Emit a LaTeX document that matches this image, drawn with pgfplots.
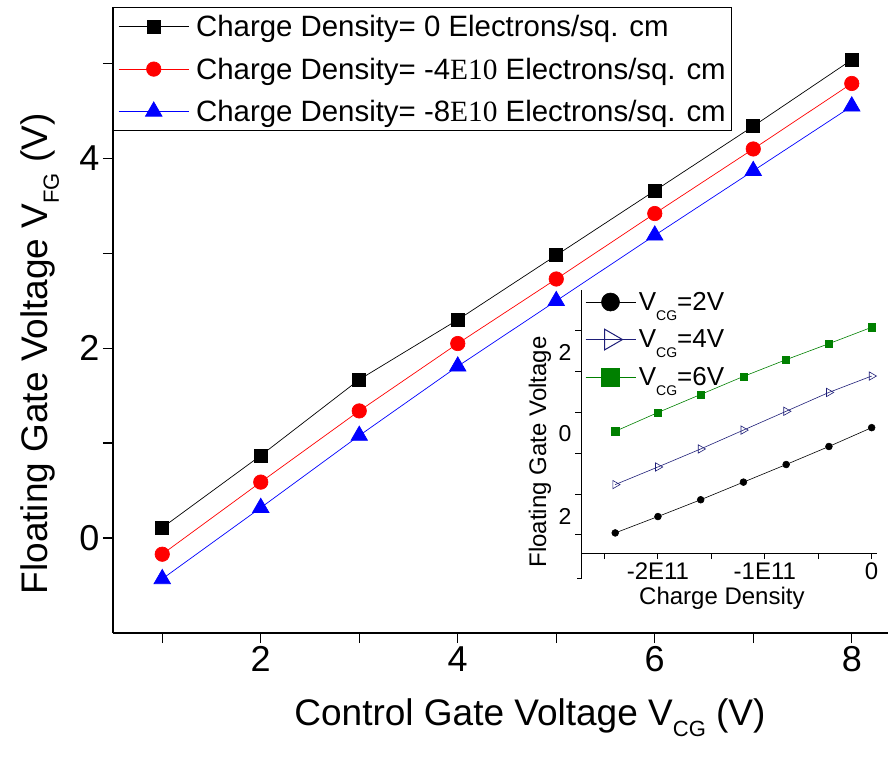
\documentclass[border=0pt]{standalone}
\usepackage{fontspec}
\setmainfont{Liberation Sans}
\newfontfamily\serif{Liberation Serif}
\usepackage{pgfplots}
\pgfplotsset{compat=1.18}
\newcommand{\subs}[3]{\raisebox{-#3}{\fontsize{#2}{#2}\selectfont #1}}
\definecolor{navy}{RGB}{30,30,120}
\definecolor{dgreen}{RGB}{0,128,0}
\begin{document}
\begin{tikzpicture}
\begin{axis}[
  name=main, at={(0,0)}, anchor=south west, scale only axis,
  width=775pt, height=626pt,
  xmin=0.5, xmax=8.368, ymin=-1, ymax=5.596,
  axis x line*=bottom, axis y line*=left,
  axis line style={line width=1.6pt},
  tick align=outside,
  xtick={2,4,6,8}, xticklabels={2,4,6,8}, minor xtick={1,3,5,7},
  ytick={0,2,4}, yticklabels={0,2,4}, minor ytick={1,3,5},
  major tick length=10pt, minor tick length=10pt,
  tick style={black, line width=1.4pt},
  xticklabel style={font=\fontsize{36}{40}\selectfont},
  yticklabel style={font=\fontsize{36}{40}\selectfont},
  xlabel={Control Gate Voltage V\subs{CG}{22pt}{11pt} (V)},
  ylabel={Floating Gate Voltage V\subs{FG}{22pt}{11pt} (V)},
  label style={font=\fontsize{37}{42}\selectfont},
  xlabel style={at={(axis description cs:0.538,-0.136)}, anchor=center},
  ylabel style={at={(axis description cs:-0.094,0.446)}, anchor=center},
  legend image code/.code={\draw[mark repeat=2,mark phase=2,#1] plot coordinates {(0pt,0pt) (35pt,0pt) (70pt,0pt)};},
  legend style={at={(axis description cs:0,1)}, anchor=north west, draw=black, line width=0.8pt,
    fill=white, font=\fontsize{29.4}{34}\selectfont, inner xsep=5pt, inner ysep=7pt, row sep=17.5pt,
    nodes={inner sep=1pt}, /tikz/every odd column/.append style={column sep=6pt}},
  legend cell align=left,
]
\addplot[black, line width=0.7pt, mark=square*, mark size=6.5pt, mark options={solid}] coordinates {
 (1,0.11) (2,0.87) (3,1.67) (4,2.30) (5,2.98) (6,3.66) (7,4.34) (8,5.04)};
\addlegendentry{Charge Density= 0 Electrons/sq. cm}
\addplot[red, line width=0.7pt, mark=*, mark size=7.2pt, mark options={solid, fill=red}] coordinates {
 (1,-0.17) (2,0.59) (3,1.34) (4,2.05) (5,2.73) (6,3.42) (7,4.10) (8,4.79)};
\addlegendentry{Charge Density= -4{\serif E10} Electrons/sq. cm}
\addplot[blue, line width=0.7pt, mark=triangle*, mark size=9.5pt, mark options={solid, fill=blue}] coordinates {
 (1,-0.43) (2,0.32) (3,1.08) (4,1.81) (5,2.50) (6,3.19) (7,3.87) (8,4.55)};
\addlegendentry{Charge Density= -8{\serif E10} Electrons/sq. cm}
\end{axis}

\begin{axis}[
  name=inset, at={(468pt,80pt)}, anchor=south west, scale only axis,
  width=296pt, height=263pt,
  xmin=-2.72e11, xmax=0.05e11, ymin=-2.44, ymax=3.98,
  axis x line*=bottom, axis y line*=left,
  axis line style={line width=1pt},
  tick align=outside, scaled x ticks=false,
  xtick={-2e11,-1e11,0}, xticklabels={-2E11,-1E11,0}, minor xtick={-2.5e11,-1.5e11,-0.5e11},
  ytick={-2,0,2}, yticklabels={2,0,2}, minor ytick={-1,1,3},
  major tick length=6pt, minor tick length=6pt,
  tick style={black, line width=1pt},
  xticklabel style={font=\fontsize{24}{26}\selectfont},
  yticklabel style={font=\fontsize{23}{26}\selectfont, yshift=19pt},
  xlabel={Charge Density}, ylabel={Floating Gate Voltage},
  label style={font=\fontsize{24}{28}\selectfont},
  xlabel style={at={(axis description cs:0.476,-0.171)}, anchor=center},
  ylabel style={at={(axis description cs:-0.139,0.384)}, anchor=center},
  legend image code/.code={\draw[mark repeat=2,mark phase=2,#1] plot coordinates {(0pt,0pt) (25pt,0pt) (50pt,0pt)};},
  legend style={at={(axis description cs:0.0135,1)}, anchor=north west, draw=none, fill=none,
    font=\fontsize{26}{28}\selectfont, inner xsep=0pt, inner ysep=1pt, row sep=16pt,
    nodes={inner sep=1pt}, /tikz/every odd column/.append style={column sep=2pt}},
  legend cell align=left,
]
\addlegendimage{black, line width=0.6pt, mark=*, mark size=9pt, mark options={solid, fill=black}}
\addlegendentry{V\subs{CG}{14pt}{10pt}=2V}
\addlegendimage{navy, line width=0.6pt, mark=triangle, mark size=12pt, mark options={solid, rotate=-90, line width=1pt}}
\addlegendentry{V\subs{CG}{14pt}{10pt}=4V}
\addlegendimage{dgreen, line width=0.6pt, mark=square*, mark size=9pt, mark options={solid, fill=dgreen}}
\addlegendentry{V\subs{CG}{14pt}{10pt}=6V}
\addplot[black, line width=0.6pt, mark=*, mark size=3.4pt, mark options={solid, fill=black}, forget plot] coordinates {
 (-2.4e11,-1.95) (-2.0e11,-1.55) (-1.6e11,-1.14) (-1.2e11,-0.71) (-0.8e11,-0.28) (-0.4e11,0.16) (0,0.62)};
\addplot[navy, line width=0.6pt, mark=triangle, mark size=4.8pt, mark options={solid, rotate=-90, fill=white}, forget plot] coordinates {
 (-2.4e11,-0.77) (-2.0e11,-0.34) (-1.6e11,0.10) (-1.2e11,0.56) (-0.8e11,1.02) (-0.4e11,1.48) (0,1.88)};
\addplot[dgreen, line width=0.6pt, mark=square*, mark size=3.6pt, mark options={solid, fill=dgreen}, forget plot] coordinates {
 (-2.4e11,0.53) (-2.0e11,0.99) (-1.6e11,1.43) (-1.2e11,1.87) (-0.8e11,2.28) (-0.4e11,2.67) (0,3.07)};
\end{axis}
\draw[line width=1pt] (inset.south west) -- ++(0pt,-25pt) -- ++(-4pt,0pt);
\pgfresetboundingbox
\path[use as bounding box] (main.south west) ++(-113pt,-128pt) rectangle ++(888pt,761pt);
\end{tikzpicture}
\end{document}
